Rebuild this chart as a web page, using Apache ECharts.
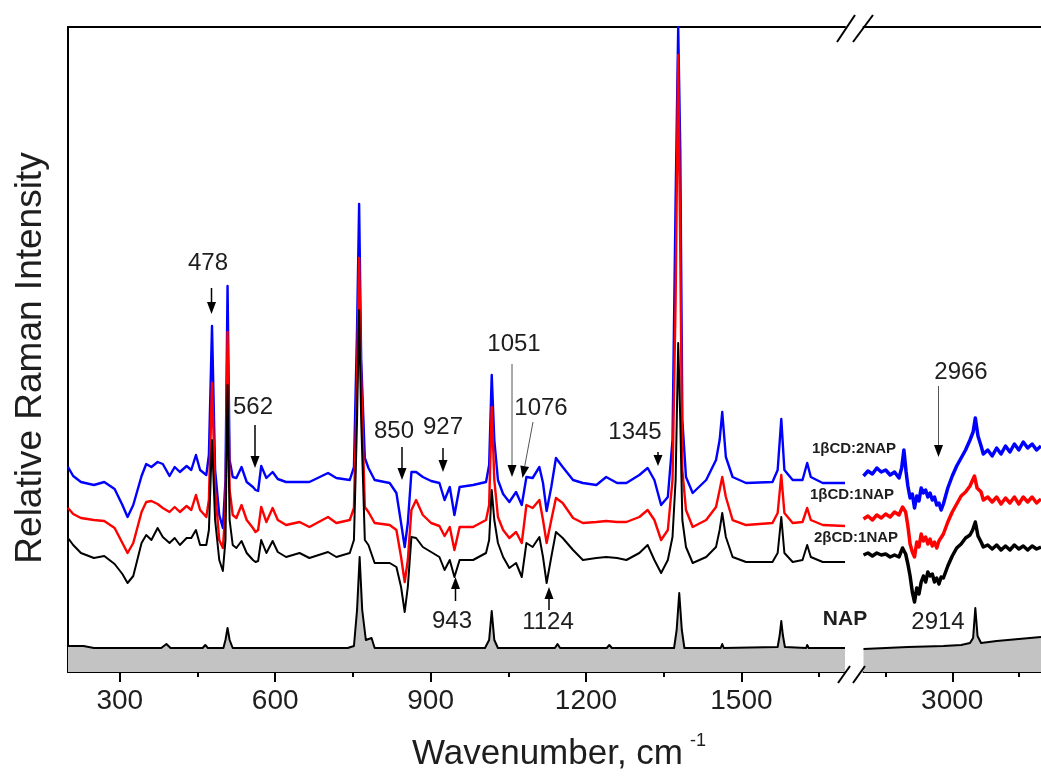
<!DOCTYPE html>
<html><head><meta charset="utf-8">
<script src="https://cdn.jsdelivr.net/npm/echarts@6/dist/echarts.min.js"></script>
<style>html,body{margin:0;padding:0;background:#fff}#c{width:1041px;height:780px}</style>
</head><body><div id="c"></div>
<script>
// ---------- DATA (intensities in arbitrary units) ----------
const wnLeft = [
  200,210,225,250,270,290,305,315,326,342,
  351,361,373,383,396,406,416,429,438,447,
  455,467,472,478,484,492,499,504,508,512,
  518,525,535,545,557,562,567,573,583,595,
  605,621,647,666,702,718,744,752,758,762,
  766,773,780,792,821,834,843,850,856,863,
  872,885,901,917,927,937,946,956,982,1007,
  1013,1018,1023,1030,1040,1052,1065,1076,1085,1097,
  1110,1117,1124,1133,1142,1155,1175,1194,1220,1239,
  1260,1278,1303,1319,1332,1345,1358,1367,1373,1378,
  1382,1386,1393,1406,1432,1451,1458,1463,1470,1483,
  1509,1560,1570,1577,1583,1599,1618,1627,1634,1657,
  1700];
const black2to1Left = [
  134,127,119,114,116,108,98,89,96,129,
  137,132,144,135,129,134,127,134,134,142,
  127,127,142,232,152,112,101,132,287,152,
  127,124,131,119,112,110,111,132,119,131,
  120,115,119,114,120,115,119,132,252,362,
  252,132,127,109,109,105,85,60,85,135,
  134,125,120,115,102,112,95,112,112,119,
  132,182,152,129,115,104,109,95,129,125,
  135,115,89,115,140,134,122,112,114,115,
  114,112,119,127,112,99,112,135,192,329,
  252,152,125,109,115,125,142,159,135,115,
  110,110,119,155,119,110,112,127,115,110,
  110];
const red1to1Left = [
  164,158,154,152,151,144,129,119,129,160,
  170,171,168,164,160,165,160,166,162,177,
  162,155,172,289,182,132,124,162,340,182,
  157,154,167,152,144,140,142,165,150,164,
  152,147,150,145,155,149,152,164,292,414,
  292,165,160,149,147,142,115,90,112,162,
  172,157,149,146,136,145,122,145,145,152,
  167,265,192,155,142,134,140,129,167,164,
  172,152,129,152,174,169,154,149,150,151,
  150,150,155,162,152,132,142,192,372,617,
  422,202,162,145,152,165,182,195,175,152,
  147,149,159,197,159,149,150,164,152,147,
  146];
const blue1to2Left = [
  205,196,190,187,190,183,167,155,167,196,
  208,205,210,208,196,205,200,206,202,217,
  202,197,217,346,202,157,144,192,386,212,
  195,194,205,190,185,182,181,206,194,200,
  193,190,190,190,199,194,192,205,342,468,
  312,214,204,192,189,179,149,125,149,200,
  200,195,191,189,172,185,157,185,187,190,
  207,297,232,192,178,170,180,167,195,194,
  205,189,161,185,214,205,192,189,187,195,
  189,189,197,204,192,167,175,232,472,645,
  522,252,195,179,192,212,232,260,215,195,
  189,190,202,253,202,192,192,209,195,189,
  189];
const wnNapLeft = [
  200,230,250,380,390,398,460,465,470,500,
  504,508,512,518,740,752,758,763,768,775,
  786,792,1005,1013,1018,1023,1030,1140,1145,1150,
  1240,1245,1250,1370,1375,1380,1385,1390,1460,1463,
  1466,1570,1574,1577,1580,1584,1625,1627,1630,1700];
const napLeft = [
  26,26,24,24,28,24,24,27,24,24,
  32,44,32,24,24,26,62,115,62,32,
  34,24,24,32,61,32,24,24,28,24,
  24,27,24,24,42,79,42,24,24,28,
  24,25,37,51,37,25,24,27,24,24];

const wnNapRight = [2800,2900,2980,3020,3040,3047,3052,3057,3065,3100,3150,3200];
const napRight   = [23,25,26,27,29,34,64,36,29,31,33,35];

const wnBlackRight = [2800,2810,2820,2830,2840,2850,2860,2870,2880,2888,2895,2900,
  2905,2910,2915,2920,2925,2930,2935,2940,2945,2950,2955,2960,2965,2970,2975,2980,
  2990,3000,3010,3020,3030,3040,3046,3052,3058,3065,
  3070,3080,3090,3100,3110,3120,3130,3140,3150,3160,3170,3180,3190,3200];
const black2to1Right = [117,119,116,119,117,118,115,117,115,124,118,108,
  96,80,70,84,78,90,96,90,100,96,98,90,94,88,95,94,
  106,116,124,128,134,137,142,150,136,130,
  125,127,123,127,122,126,122,127,123,126,122,126,123,125];

const wnRedRight = [2800,2810,2820,2830,2840,2850,2860,2870,2880,2888,2895,2900,
  2905,2910,2915,2920,2925,2930,2935,2940,2945,2950,2955,2960,2965,2970,
  2980,2990,3000,3010,3020,3030,3040,3050,3056,3065,
  3070,3080,3090,3100,3110,3120,3130,3140,3150,3160,3170,3180,3190,3200];
const red1to1Right = [153,156,152,157,154,158,155,160,157,165,160,146,
  128,120,115,130,125,138,131,135,128,133,126,130,124,131,
  138,150,160,168,176,180,186,196,184,180,
  172,175,170,175,168,174,169,175,168,175,170,175,169,173];

const wnBlueRight = [2800,2810,2820,2830,2840,2850,2860,2870,2880,2886,2891,2896,2900,
  2905,2910,2915,2920,2925,2930,2935,2940,2945,2950,2955,2960,2965,2970,2975,2980,
  2990,3000,3010,3020,3030,3040,3047,3052,3058,3065,
  3070,3080,3090,3100,3110,3120,3130,3140,3150,3160,3170,3180,3190,3200];
const blue1to2Right = [196,201,198,204,200,202,197,200,194,204,222,200,186,
  174,178,164,176,171,184,179,182,175,179,172,175,167,169,162,168,
  184,196,206,214,222,232,240,254,236,226,
  218,222,216,224,218,226,220,228,222,230,224,228,222,226];

const leftMajorTicks  = [300, 600, 900, 1200, 1500];
const leftMinorTicks  = [450, 750, 1050, 1350, 1650];
const rightMajorTicks = [3000];
const rightMinorTicks = [2850, 3150];

const seriesNames = ['1βCD:2NAP', '1βCD:1NAP', '2βCD:1NAP', 'NAP'];
const peakLabels = ['478','562','850','927','943','1051','1076','1124','1345','2966','2914'];

// ---------- CHART ----------
const FONT = '"Liberation Sans", Arial, Helvetica, sans-serif';
const TXT = '#1e1e1e';
const chart = echarts.init(document.getElementById('c'), null, {renderer: 'canvas'});
const pairs = (xs, ys) => xs.map((x, i) => [x, ys[i]]);

function mkX(grid, min, max, pos, opts) {
  return Object.assign({
    type: 'value', gridIndex: grid, min: min, max: max, position: pos,
    axisLine: {show: false, onZero: false, lineStyle: {color: '#000', width: 2}},
    axisTick: {show: false},
    axisLabel: {show: false},
    splitLine: {show: false}
  }, opts);
}
function majorOpts(ticks) {
  return {
    axisLine: {show: true, onZero: false, lineStyle: {color: '#000', width: 2}},
    axisTick: {show: true, customValues: ticks, length: 10, lineStyle: {color: '#000', width: 2}},
    axisLabel: {show: true, customValues: ticks, fontSize: 28, fontFamily: FONT, color: TXT, margin: 15,
      formatter: v => String(v)}
  };
}
function minorOpts(ticks) {
  return {axisTick: {show: true, customValues: ticks, length: 5, lineStyle: {color: '#000', width: 2}}};
}
const topOpts = {axisLine: {show: true, onZero: false, lineStyle: {color: '#000', width: 2}}};

function mkY(grid, showLine) {
  return {
    type: 'value', gridIndex: grid, min: 0, max: 645, position: 'left',
    axisLine: {show: showLine, onZero: false, lineStyle: {color: '#000', width: 2}},
    axisTick: {show: false}, axisLabel: {show: false}, splitLine: {show: false}
  };
}

function line(name, xi, yi, data, color, width, extra) {
  return Object.assign({
    name: name, type: 'line', xAxisIndex: xi, yAxisIndex: yi, data: data,
    showSymbol: false, symbol: 'none', silent: true, animation: false, clip: true,
    lineStyle: {color: color, width: width, join: 'round'}
  }, extra || {});
}

function arrow(x1, y1, x2, y2, stroke, lw, L, W) {
  const dx = x2 - x1, dy = y2 - y1, len = Math.sqrt(dx*dx + dy*dy);
  const ux = dx/len, uy = dy/len, nx = -uy, ny = ux;
  const bx = x2 - ux*L, by = y2 - uy*L;
  return [
    {type: 'line', silent: true, shape: {x1: x1, y1: y1, x2: bx, y2: by}, style: {stroke: stroke, lineWidth: lw}},
    {type: 'polygon', silent: true, shape: {points: [[x2, y2], [bx + nx*W, by + ny*W], [bx - nx*W, by - ny*W]]}, style: {fill: '#000'}}
  ];
}
function txt(s, x, y, size, weight, align) {
  return {type: 'text', silent: true, x: x, y: y,
    style: {text: s, fontSize: size, fontFamily: FONT, fontWeight: weight || 'normal', fill: TXT,
      align: align || 'center', verticalAlign: 'middle'}};
}
function slash(x1, y1, x2, y2) {
  return {type: 'line', silent: true, z: 100, shape: {x1: x1, y1: y1, x2: x2, y2: y2}, style: {stroke: '#000', lineWidth: 2}};
}

let g = [];
g = g.concat(arrow(211.5, 288, 211.5, 314, '#000', 1.5, 12, 4.5));
g = g.concat(arrow(255, 425, 255, 468, '#000', 1.5, 12, 4.5));
g = g.concat(arrow(402, 447, 402, 480, '#000', 1.5, 12, 4.5));
g = g.concat(arrow(443, 448, 443, 472, '#000', 1.5, 12, 4.5));
g = g.concat(arrow(455.5, 601, 455.5, 577, '#000', 1.5, 12, 4.5));
g = g.concat(arrow(549, 610, 549, 587, '#000', 1.5, 12, 4.5));
g = g.concat(arrow(512, 364, 512, 477, '#555', 1, 12, 4.5));
g = g.concat(arrow(533, 422, 522.5, 478, '#555', 1, 12, 4.5));
g = g.concat(arrow(658, 452, 658, 466, '#000', 1.5, 11, 4.5));
g = g.concat(arrow(938.5, 386, 938.5, 457, '#555', 1, 12, 4.5));

const labelPos = {
  '478': [208, 263], '562': [253, 407], '850': [394, 431], '927': [443, 427],
  '943': [452, 621], '1051': [514, 344], '1076': [541, 408], '1124': [548, 622],
  '1345': [635, 432], '2966': [961, 372], '2914': [938, 622]
};
peakLabels.forEach(s => g.push(txt(s, labelPos[s][0], labelPos[s][1], 24)));

const namePos = [[854, 449], [852, 495], [856, 538]];
for (let i = 0; i < 3; i++) g.push(txt(seriesNames[i], namePos[i][0], namePos[i][1], 15, 'bold'));
g.push(txt(seriesNames[3], 845, 619, 21, 'bold'));

g.push({type: 'text', silent: true, x: 31, y: 358, rotation: Math.PI/2,
  style: {text: 'Relative Raman Intensity', fontSize: 37, fontFamily: FONT, fill: TXT, align: 'center', verticalAlign: 'middle'}});
g.push(txt('Wavenumber, cm', 412, 754, 35, 'normal', 'left'));
g.push(txt('-1', 690, 741, 18, 'normal', 'left'));

g.push(slash(837, 42, 855, 15));
g.push(slash(853, 42, 873, 15));
g.push(slash(838, 683, 850, 666));
g.push(slash(853, 683, 865, 666));

const option = {
  backgroundColor: '#fff',
  animation: false,
  grid: [
    {left: 68, top: 27, width: 777, height: 645},
    {left: 863.5, top: 27, width: 186.4, height: 645}
  ],
  xAxis: [
    mkX(0, 200, 1700, 'bottom', majorOpts(leftMajorTicks)),
    mkX(0, 200, 1700, 'bottom', minorOpts(leftMinorTicks)),
    mkX(0, 200, 1700, 'top', topOpts),
    mkX(1, 2800, 3200, 'bottom', majorOpts(rightMajorTicks)),
    mkX(1, 2800, 3200, 'bottom', minorOpts(rightMinorTicks)),
    mkX(1, 2800, 3200, 'top', topOpts)
  ],
  yAxis: [mkY(0, true), mkY(1, false)],
  series: [
    line('NAP', 0, 0, pairs(wnNapLeft, napLeft), '#000', 2, {areaStyle: {color: '#c3c3c3', opacity: 1}, z: 2}),
    line('NAP', 3, 1, pairs(wnNapRight, napRight), '#000', 2, {areaStyle: {color: '#c3c3c3', opacity: 1}, z: 2}),
    line(seriesNames[0], 0, 0, pairs(wnLeft, blue1to2Left), '#0000ff', 2.4, {z: 3}),
    line(seriesNames[0], 3, 1, pairs(wnBlueRight, blue1to2Right), '#0000ff', 3.5, {z: 3}),
    line(seriesNames[1], 0, 0, pairs(wnLeft, red1to1Left), '#ff0000', 2.4, {z: 4}),
    line(seriesNames[1], 3, 1, pairs(wnRedRight, red1to1Right), '#ff0000', 3.5, {z: 4}),
    line(seriesNames[2], 0, 0, pairs(wnLeft, black2to1Left), '#000', 2, {z: 5}),
    line(seriesNames[2], 3, 1, pairs(wnBlackRight, black2to1Right), '#000', 3.5, {z: 5})
  ],
  graphic: {elements: g}
};
chart.setOption(option);
</script>
</body></html>
